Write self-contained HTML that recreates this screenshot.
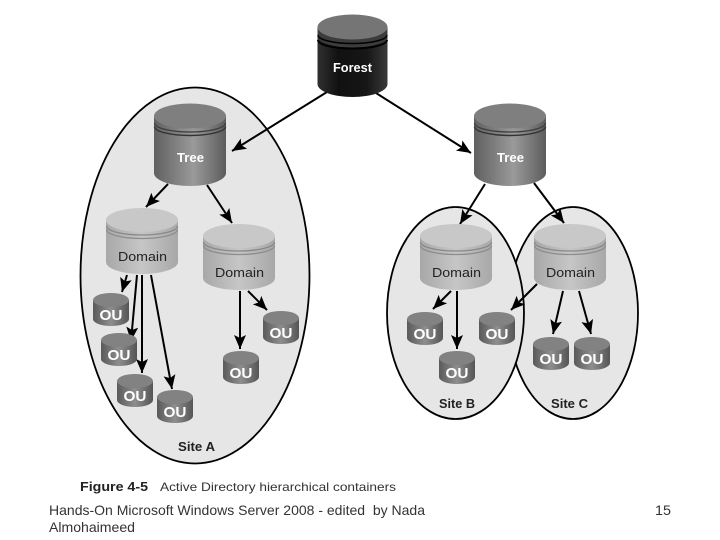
<!DOCTYPE html>
<html>
<head>
<meta charset="utf-8">
<style>
html,body{margin:0;padding:0;background:#fff;width:720px;height:540px;overflow:hidden}
svg{display:block}
text{font-family:"Liberation Sans",Arial,sans-serif;white-space:pre}
</style>
</head>
<body>
<svg width="720" height="540" viewBox="0 0 720 540" xmlns="http://www.w3.org/2000/svg">
<defs>
<linearGradient id="gF" x1="0" x2="1" y1="0" y2="0">
<stop offset="0" stop-color="#303030"/><stop offset=".3" stop-color="#111"/><stop offset=".7" stop-color="#161616"/><stop offset="1" stop-color="#3a3a3a"/>
</linearGradient>
<linearGradient id="gT" x1="0" x2="1" y1="0" y2="0">
<stop offset="0" stop-color="#606060"/><stop offset=".55" stop-color="#9a9a9a"/><stop offset="1" stop-color="#5c5c5c"/>
</linearGradient>
<linearGradient id="gD" x1="0" x2="1" y1="0" y2="0">
<stop offset="0" stop-color="#a8a8a8"/><stop offset=".5" stop-color="#c6c6c6"/><stop offset="1" stop-color="#a8a8a8"/>
</linearGradient>
<linearGradient id="gO" x1="0" x2="1" y1="0" y2="0">
<stop offset="0" stop-color="#5a5a5a"/><stop offset=".5" stop-color="#8e8e8e"/><stop offset="1" stop-color="#555"/>
</linearGradient>
<g id="forest">
<path d="M0,13 V70 A35,13 0 0 0 70,70 V13 Z" fill="url(#gF)"/>
<path d="M0,13 V21 A35,13 0 0 0 70,21 V13 Z" fill="#3c3c3c"/>
<ellipse cx="35" cy="13" rx="35" ry="12.500" fill="#757575"/>
<path d="M0.500,21 A34.500,8.500 0 0 0 69.500,21" fill="none" stroke="#000" stroke-width="1.5"/>
<path d="M0.500,26 A34.500,8.500 0 0 0 69.500,26" fill="none" stroke="#000" stroke-width="2"/>
</g>
<g id="tree">
<path d="M0,13 V70 A36,13 0 0 0 72,70 V13 Z" fill="url(#gT)"/>
<ellipse cx="36" cy="13" rx="36" ry="12.500" fill="#7f7f7f"/>
<path d="M0.500,20 A35.500,9 0 0 0 71.500,20" fill="none" stroke="#3c3c3c" stroke-width="1.2"/>
<path d="M0.500,23.500 A35.500,9 0 0 0 71.500,23.500" fill="none" stroke="#333" stroke-width="1.4"/>
</g>
<g id="domain">
<path d="M0,12 V54 A36,12 0 0 0 72,54 V12 Z" fill="url(#gD)"/>
<ellipse cx="36" cy="12" rx="36" ry="12" fill="#c8c8c8"/>
<path d="M0.500,18 A35.500,9 0 0 0 71.500,18" fill="none" stroke="#888" stroke-width="1.3"/>
<path d="M0.500,21.500 A35.500,9 0 0 0 71.500,21.500" fill="none" stroke="#8c8c8c" stroke-width="1.3"/>
</g>
<g id="ou">
<path d="M0,7 V26 A18,7 0 0 0 36,26 V7 Z" fill="url(#gO)"/>
<ellipse cx="18" cy="7" rx="18" ry="7" fill="#828282"/>
<text x="18" y="27" text-anchor="middle" font-size="15" font-weight="bold" fill="#fff" textLength="23" lengthAdjust="spacingAndGlyphs">OU</text>
</g>
<marker id="ah" markerUnits="userSpaceOnUse" markerWidth="15" markerHeight="13" refX="14" refY="6" orient="auto">
<path d="M0,0 L14,6 L0,12 L3,6 Z" fill="#000"/>
</marker>
</defs>

<rect width="720" height="540" fill="#fff"/>

<ellipse cx="195" cy="275.500" rx="114.500" ry="188" fill="#e6e6e6" stroke="#000" stroke-width="1.8"/>
<ellipse cx="573" cy="313" rx="65" ry="106" fill="#e6e6e6" stroke="#000" stroke-width="1.8"/>
<ellipse cx="455.500" cy="313" rx="68.500" ry="106" fill="#e6e6e6" stroke="#000" stroke-width="1.8"/>

<g stroke="#000" stroke-width="2" fill="none" marker-end="url(#ah)">
<path d="M327,92 L232,151"/>
<path d="M376,93 L471,153"/>
<path d="M168,184 L146,207"/>
<path d="M207,185 L232,223"/>
<path d="M485,184 L460,224"/>
<path d="M534,183 L564,223"/>
<path d="M127,275 L122,292"/>
<path d="M137,275 L131,341"/>
<path d="M142,275 L142,373"/>
<path d="M151,275 L172,389"/>
<path d="M240,291 L240,349"/>
<path d="M248,291 L267,310"/>
<path d="M451,291 L433,309"/>
<path d="M457,291 L457,349"/>
<path d="M537,284 L511,310"/>
<path d="M563,291 L553,334"/>
<path d="M579,291 L591,334"/>
</g>

<use href="#forest" x="317.500" y="14"/>
<use href="#tree" x="154" y="103"/>
<use href="#tree" x="474" y="103"/>
<use href="#domain" x="106" y="208"/>
<use href="#domain" x="203" y="224"/>
<use href="#domain" x="420" y="224"/>
<use href="#domain" x="534" y="224"/>

<use href="#ou" x="93" y="293"/>
<use href="#ou" x="101" y="333"/>
<use href="#ou" x="117" y="374"/>
<use href="#ou" x="157" y="390"/>
<use href="#ou" x="223" y="351"/>
<use href="#ou" x="263" y="311"/>
<use href="#ou" x="407" y="312"/>
<use href="#ou" x="439" y="351"/>
<use href="#ou" x="479" y="312"/>
<use href="#ou" x="533" y="337"/>
<use href="#ou" x="574" y="337"/>

<text x="333" y="72" font-size="13" font-weight="bold" fill="#fff" textLength="39" lengthAdjust="spacingAndGlyphs">Forest</text>
<text x="177" y="162" font-size="13" font-weight="bold" fill="#fff" textLength="27" lengthAdjust="spacingAndGlyphs">Tree</text>
<text x="497" y="162" font-size="13" font-weight="bold" fill="#fff" textLength="27" lengthAdjust="spacingAndGlyphs">Tree</text>
<text x="118" y="261" font-size="13" fill="#222" textLength="49" lengthAdjust="spacingAndGlyphs">Domain</text>
<text x="215" y="277" font-size="13" fill="#222" textLength="49" lengthAdjust="spacingAndGlyphs">Domain</text>
<text x="432" y="277" font-size="13" fill="#222" textLength="49" lengthAdjust="spacingAndGlyphs">Domain</text>
<text x="546" y="277" font-size="13" fill="#222" textLength="49" lengthAdjust="spacingAndGlyphs">Domain</text>

<text x="178" y="451" font-size="13" font-weight="bold" fill="#222" textLength="37" lengthAdjust="spacingAndGlyphs">Site A</text>
<text x="439" y="408" font-size="13" font-weight="bold" fill="#222" textLength="36" lengthAdjust="spacingAndGlyphs">Site B</text>
<text x="551" y="408" font-size="13" font-weight="bold" fill="#222" textLength="37" lengthAdjust="spacingAndGlyphs">Site C</text>

<text x="80" y="491" font-size="13" font-weight="bold" fill="#222" textLength="68" lengthAdjust="spacingAndGlyphs">Figure 4-5</text>
<text x="160" y="491" font-size="12" fill="#333" textLength="236" lengthAdjust="spacingAndGlyphs">Active Directory hierarchical containers</text>

<text x="49" y="515" font-size="14" fill="#333" textLength="376" lengthAdjust="spacingAndGlyphs">Hands-On Microsoft Windows Server 2008 - edited  by Nada</text>
<text x="49" y="532" font-size="14" fill="#333" textLength="86" lengthAdjust="spacingAndGlyphs">Almohaimeed</text>
<text x="655" y="515" font-size="14" fill="#333" textLength="16" lengthAdjust="spacingAndGlyphs">15</text>
</svg>
</body>
</html>
